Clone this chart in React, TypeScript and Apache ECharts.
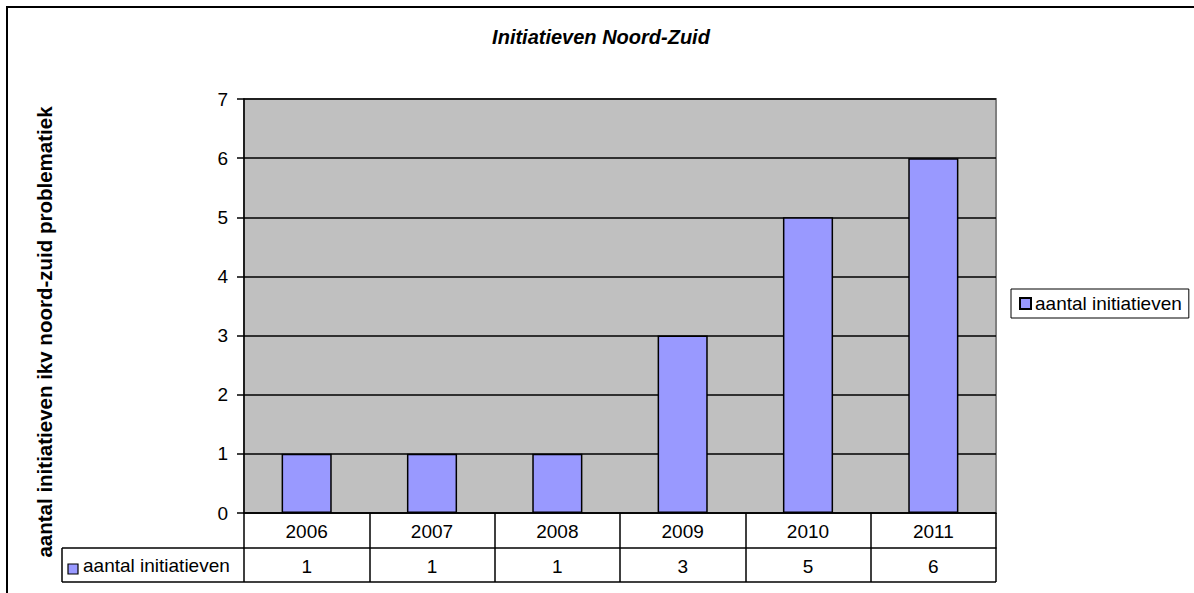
import React, { useEffect, useRef } from "react";
import * as echarts from "echarts";

const title = "Initiatieven Noord-Zuid";
const yAxisTitle = "aantal initiatieven ikv noord-zuid problematiek";
const seriesName = "aantal initiatieven";
const years = ["2006", "2007", "2008", "2009", "2010", "2011"];
const counts = [1, 1, 1, 3, 5, 6];

const FONT = 'Arial, "Liberation Sans", sans-serif';

export default function App() {
  const ref = useRef<HTMLDivElement>(null);
  useEffect(() => {
    if (!ref.current) return;
    const chart = echarts.init(ref.current, null, { renderer: "svg" });
    const gridLeft = 244;
    const gridRight = 996;
    const gridTop = 99;
    const gridBottom = 513;
    const row1 = 548;
    const row2 = 582;
    const tableLeft = 62;
    chart.setOption({
      animation: false,
      backgroundColor: "#ffffff",
      textStyle: { fontFamily: FONT },
      title: {
        text: title,
        left: 601,
        top: 27,
        textAlign: "center",
        padding: 0,
        textStyle: {
          fontFamily: FONT,
          fontSize: 20,
          fontWeight: "bold",
          fontStyle: "italic",
          color: "#000",
        },
      },
      legend: {
        show: true,
        left: 1011,
        top: 289,
        orient: "vertical",
        padding: [5, 7, 5, 8],
        itemWidth: 11,
        itemHeight: 11,
        itemGap: 5,
        borderColor: "#000",
        borderWidth: 1,
        backgroundColor: "#fff",
        icon: "rect",
        textStyle: { fontFamily: FONT, fontSize: 19, color: "#000", padding: [0, 0, 0, -1] },
        data: [seriesName],
      },
      grid: {
        left: gridLeft,
        top: gridTop,
        right: 1194 - gridRight,
        bottom: 593 - gridBottom,
        show: true,
        backgroundColor: "#c0c0c0",
        borderColor: "#808080",
        borderWidth: 2,
        containLabel: false,
      },
      xAxis: [
        {
          type: "category",
          data: years,
          position: "bottom",
          axisLine: { show: true, lineStyle: { color: "#000", width: 1.5 } },
          axisTick: { show: true, length: row2 - gridBottom, lineStyle: { color: "#000", width: 1.5 } },
          axisLabel: { fontFamily: FONT, fontSize: 19, color: "#000", margin: 9 },
          splitLine: { show: false },
        },
        {
          type: "category",
          data: years,
          position: "bottom",
          offset: row1 - gridBottom,
          axisLine: { show: true, lineStyle: { color: "#000", width: 1.5 } },
          axisTick: { show: false },
          axisLabel: {
            fontFamily: FONT,
            fontSize: 19,
            color: "#000",
            margin: 9,
            formatter: (_v: string, i: number) => String(counts[i]),
          },
          splitLine: { show: false },
        },
      ],
      yAxis: {
        type: "value",
        min: 0,
        max: 7,
        interval: 1,
        axisLine: { show: true, lineStyle: { color: "#000", width: 1.5 } },
        axisTick: { show: true, inside: false, length: 7, lineStyle: { color: "#000", width: 1.5 } },
        axisLabel: { fontFamily: FONT, fontSize: 19, color: "#000", margin: 16 },
        splitLine: { show: true, lineStyle: { color: "#000", width: 1.5 } },
      },
      series: [
        {
          name: seriesName,
          type: "bar",
          data: counts,
          xAxisIndex: 0,
          barWidth: "40%",
          itemStyle: { color: "#9999ff", borderColor: "#000", borderWidth: 1.5 },
        },
      ],
      graphic: [
        {
          type: "rect",
          silent: true,
          shape: { x: 7, y: 7, width: 1200, height: 600 },
          style: { fill: "none", stroke: "#000", lineWidth: 2 },
        },
        {
          type: "text",
          silent: true,
          x: 44,
          y: 332,
          rotation: Math.PI / 2,
          style: {
            text: yAxisTitle,
            font: `bold 20.5px ${FONT}`,
            fill: "#000",
            align: "center",
            verticalAlign: "middle",
          },
        },
        {
          type: "line",
          silent: true,
          shape: { x1: tableLeft, y1: row2, x2: gridRight, y2: row2 },
          style: { stroke: "#000", lineWidth: 1.5 },
        },
        {
          type: "line",
          silent: true,
          shape: { x1: tableLeft, y1: row1, x2: gridLeft, y2: row1 },
          style: { stroke: "#000", lineWidth: 1.5 },
        },
        {
          type: "line",
          silent: true,
          shape: { x1: tableLeft, y1: row1, x2: tableLeft, y2: row2 },
          style: { stroke: "#000", lineWidth: 1.5 },
        },
        {
          type: "rect",
          silent: true,
          shape: { x: 68, y: 564, width: 10, height: 10 },
          style: { fill: "#9999ff", stroke: "#000", lineWidth: 1.2 },
        },
        {
          type: "text",
          silent: true,
          x: 83,
          y: 565,
          style: {
            text: seriesName,
            font: `19px ${FONT}`,
            fill: "#000",
            verticalAlign: "middle",
          },
        },
      ],
    });
    return () => chart.dispose();
  }, []);
  return (
    <div
      ref={ref}
      style={{ position: "absolute", left: 0, top: 0, width: 1194, height: 593 }}
    />
  );
}
